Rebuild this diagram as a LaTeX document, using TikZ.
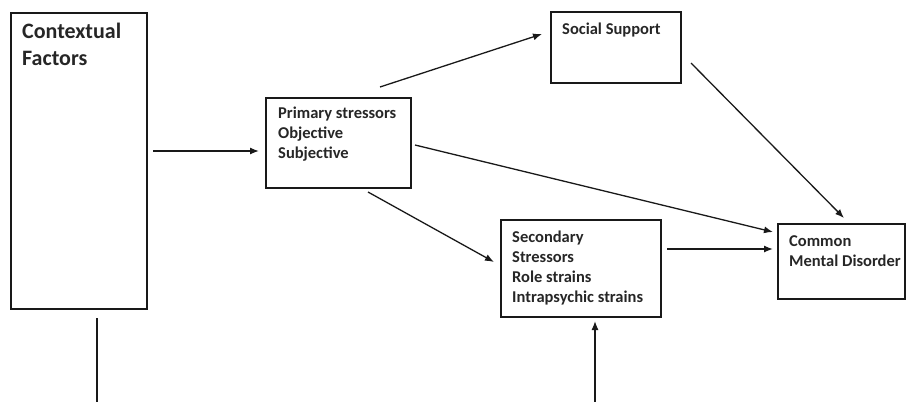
\documentclass[tikz,border=0pt]{standalone}
\usepackage{fontspec}
\setmainfont{Carlito}
\usetikzlibrary{arrows.meta}
\begin{document}
\begin{tikzpicture}[x=1pt,y=-1pt,
  box/.style={draw=black!90,line width=2.4pt,minimum width=#1,inner sep=0pt,anchor=north west},
  lbl/.style={anchor=base west,inner sep=0pt,align=left,font=\bfseries\fontsize{16.5}{20}\selectfont,text=black!85},
  arr/.style={line width=1.3pt,draw=black!90,-{Latex[length=9pt,width=7pt]}},
  ln/.style={line width=1.3pt,draw=black!90}]
\useasboundingbox (0,0) rectangle (906,402);
% boxes
\node[box=136pt,minimum height=296pt] (ctx) at (10,12) {};
\node[box=145pt,minimum height=90pt] (prim) at (265,97) {};
\node[box=130pt,minimum height=71pt] (soc) at (550,11) {};
\node[box=160pt,minimum height=97pt] (sec) at (500,219) {};
\node[box=127pt,minimum height=75pt] (cmd) at (777,223) {};
% labels (anchored at the baseline of the last line)
\node[lbl,font=\bfseries\fontsize{22}{26.5}\selectfont] (ctxt) at (22,65) {Contextual\\Factors};
\node[lbl] (primt) at (278,158) {Primary stressors\\Objective\\Subjective};
\node[lbl] (soct) at (562,34) {Social Support};
\node[lbl] (sect) at (512,302) {Secondary\\Stressors\\Role strains\\Intrapsychic strains};
\node[lbl] (cmdt) at (789,266) {Common\\Mental Disorder};
% connector end points
\coordinate (a1) at (153,151); \coordinate (a2) at (259,151);
\coordinate (b1) at (380,87);  \coordinate (b2) at (542,34);
\coordinate (c1) at (691,63);  \coordinate (c2) at (844,218);
\coordinate (d1) at (415,145); \coordinate (d2) at (773,232);
\coordinate (e1) at (368,192); \coordinate (e2) at (494,262);
\coordinate (f1) at (667,249); \coordinate (f2) at (773,249);
\coordinate (g1) at (595,402); \coordinate (g2) at (595,321);
\coordinate (h1) at (97,318);  \coordinate (h2) at (97,402);
% connectors
\draw[arr] (a1) -- (a2);
\draw[arr] (b1) -- (b2);
\draw[arr] (c1) -- (c2);
\draw[arr] (d1) -- (d2);
\draw[arr] (e1) -- (e2);
\draw[arr] (f1) -- (f2);
\draw[arr] (g1) -- (g2);
\draw[ln] (h1) -- (h2);
\end{tikzpicture}
\end{document}
